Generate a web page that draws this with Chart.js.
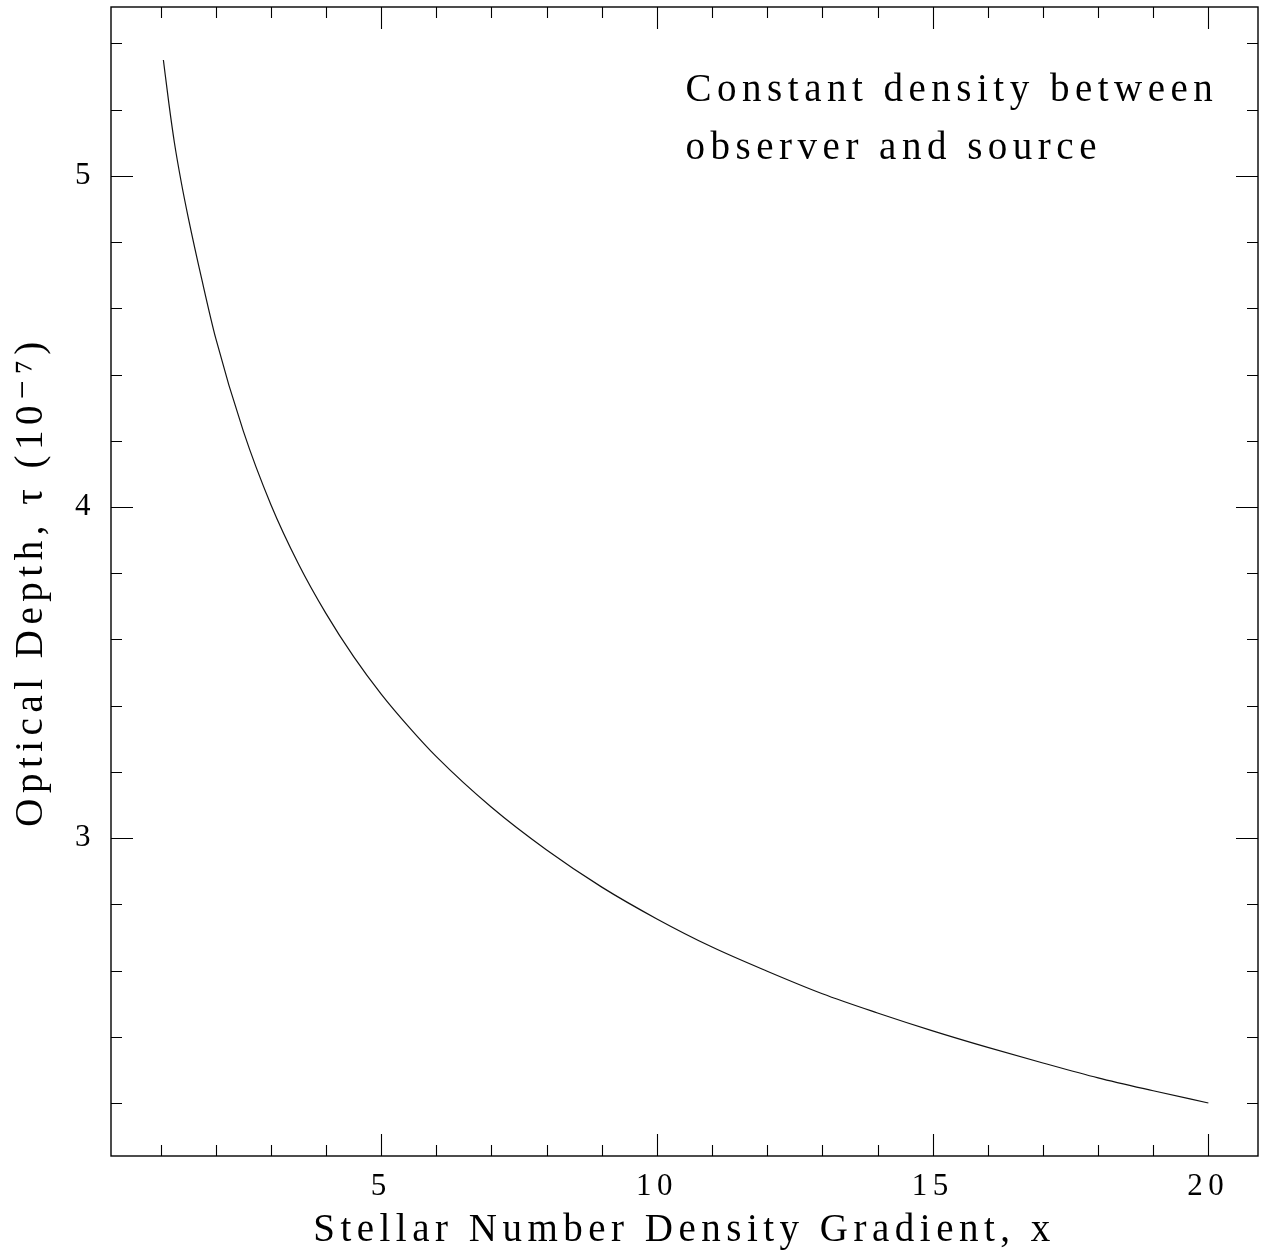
<!DOCTYPE html>
<html>
<head>
<meta charset="utf-8">
<script src="https://cdn.jsdelivr.net/npm/chart.js@4.4.1/dist/chart.umd.min.js"></script>
<style>
  html, body { margin: 0; padding: 0; background: #fff; }
  #wrap { width: 1263px; height: 1255px; }
</style>
</head>
<body>
<div id="wrap"><canvas id="tauChart" width="1263" height="1255"></canvas></div>
<script>
"use strict";

// stellar number density gradient x
var gradientX = [1.05, 1.15, 1.25, 1.375, 1.5, 1.75, 2, 2.5, 3, 3.5, 4, 4.5, 5, 5.5, 6,
  7, 8, 9, 10, 11, 12, 13, 14, 15, 16, 17, 18, 19, 20];
// optical depth tau, units of 1e-7
var opticalDepth = [5.35, 5.218, 5.10, 4.98, 4.875, 4.685, 4.509, 4.229, 4.007, 3.828, 3.678, 3.548, 3.435, 3.336, 3.246,
  3.093, 2.964, 2.852, 2.756, 2.671, 2.598, 2.530, 2.472, 2.418, 2.368, 2.321, 2.276, 2.237, 2.200];

var xTickLabels = [5, 10, 15, 20];
var yTickLabels = [3, 4, 5];
var noteLines = ["Constant density between", "observer and source"];

var FONT = "'Liberation Serif', 'DejaVu Serif', serif";
var SPACING = "5.5px";

var frameTicks = {
  id: "frameTicks",
  beforeInit: function (chart) { chart.ctx.letterSpacing = SPACING; },
  beforeDraw: function (chart) { chart.ctx.letterSpacing = SPACING; },
  afterDraw: function (chart) {
    var ctx = chart.ctx;
    var a = chart.chartArea;
    var xs = chart.scales.x;
    var ys = chart.scales.y;
    ctx.save();
    ctx.strokeStyle = "#000";
    ctx.lineWidth = 1.4;
    ctx.strokeRect(a.left, a.top, a.right - a.left, a.bottom - a.top);

    ctx.lineWidth = 1.1;
    ctx.beginPath();
    // x ticks every 1, long ones on the labelled values
    for (var v = 1; v <= 20; v++) {
      var px = Math.round(xs.getPixelForValue(v)) + 0.5;
      var len = xTickLabels.indexOf(v) >= 0 ? 22 : 11;
      ctx.moveTo(px, a.bottom); ctx.lineTo(px, a.bottom - len);
      ctx.moveTo(px, a.top); ctx.lineTo(px, a.top + len);
    }
    // y ticks every 0.2
    for (var k = 11; k <= 27; k++) {
      var val = k / 5;
      var py = Math.round(ys.getPixelForValue(val)) + 0.5;
      var ylen = k % 5 === 0 ? 22 : 11;
      ctx.moveTo(a.left, py); ctx.lineTo(a.left + ylen, py);
      ctx.moveTo(a.right, py); ctx.lineTo(a.right - ylen, py);
    }
    ctx.stroke();

    // note in the upper right
    ctx.fillStyle = "#000";
    ctx.font = "39px " + FONT;
    ctx.letterSpacing = SPACING;
    ctx.textAlign = "left";
    ctx.textBaseline = "alphabetic";
    var nx = xs.getPixelForValue(10.52);
    var ny = ys.getPixelForValue(5.226);
    noteLines.forEach(function (t, i) {
      ctx.fillText(t, nx, ny + i * 58);
    });
    ctx.restore();
  }
};

const tauCanvas = document.getElementById("tauChart");

new Chart(tauCanvas, {
  type: "line",
  data: {
    datasets: [{
      data: gradientX.map(function (x, i) { return { x: x, y: opticalDepth[i] }; }),
      borderColor: "#111",
      borderWidth: 1.2,
      pointRadius: 0,
      fill: false,
      cubicInterpolationMode: "monotone"
    }]
  },
  options: {
    responsive: false,
    animation: false,
    events: [],
    layout: { padding: { top: 7, right: 5, left: 0, bottom: 0 } },
    plugins: {
      legend: { display: false },
      tooltip: { enabled: false }
    },
    scales: {
      x: {
        type: "linear",
        position: "bottom",
        min: 0.1,
        max: 20.9,
        grid: { display: false, drawTicks: false },
        border: { display: false },
        afterBuildTicks: function (scale) {
          scale.ticks = xTickLabels.map(function (v) { return { value: v }; });
        },
        afterFit: function (scale) {
          scale.height = 99;
          scale.paddingLeft = 0;
          scale.paddingRight = 0;
        },
        ticks: {
          color: "#000",
          padding: 12,
          maxRotation: 0,
          font: { family: FONT, size: 31 }
        },
        title: {
          display: true,
          text: "Stellar Number Density Gradient, x",
          color: "#000",
          padding: { top: 0, bottom: 5 },
          font: { family: FONT, size: 39, lineHeight: 1 }
        }
      },
      y: {
        type: "linear",
        position: "left",
        min: 2.04,
        max: 5.51,
        grid: { display: false, drawTicks: false },
        border: { display: false },
        afterBuildTicks: function (scale) {
          scale.ticks = yTickLabels.map(function (v) { return { value: v }; });
        },
        afterFit: function (scale) {
          scale.width = 111;
          scale.paddingTop = 0;
          scale.paddingBottom = 0;
        },
        ticks: {
          color: "#000",
          padding: 15,
          font: { family: FONT, size: 31 }
        },
        title: {
          display: true,
          text: "Optical Depth, \u03c4 (10\u207b\u2077)",
          color: "#000",
          padding: { top: 12, bottom: 0 },
          font: { family: FONT, size: 39, lineHeight: 1 }
        }
      }
    }
  },
  plugins: [frameTicks]
});
</script>
</body>
</html>
